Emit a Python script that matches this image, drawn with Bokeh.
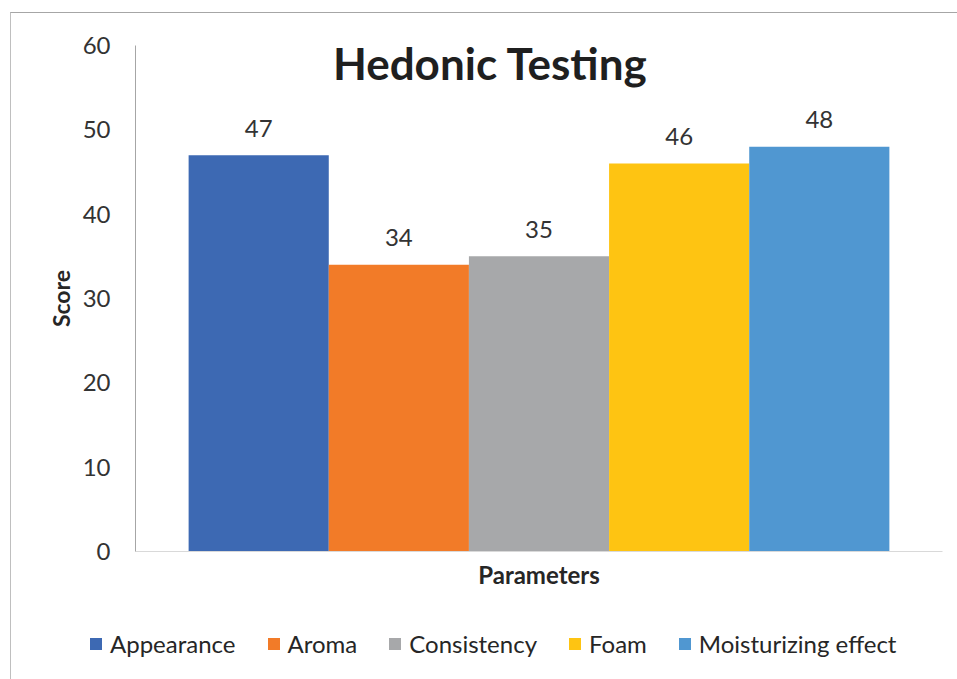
from bokeh.plotting import figure
from bokeh.models import (ColumnDataSource, Range1d, FixedTicker, LabelSet, Label,
                          Legend, LegendItem)
from bokeh.layouts import column, row
from bokeh.core.properties import value
from bokeh.embed import file_html
from bokeh.resources import INLINE

# ---- data ----
categories = ["Appearance", "Aroma", "Consistency", "Foam", "Moisturizing effect"]
scores = [47, 34, 35, 46, 48]
colors = ["#3d69b3", "#f27b28", "#a7a8aa", "#fec412", "#5097d1"]
y_ticks = [0, 10, 20, 30, 40, 50, 60]
title_text = "Hedonic Testing"
x_label = "Parameters"
y_label = "Score"

FONT = "Lato"

xs = list(range(len(categories)))
source = ColumnDataSource(dict(x=xs, score=scores, name=categories, color=colors,
                               label=[str(v) for v in scores]))

W = 946
p = figure(width=W, height=597, output_backend="svg", toolbar_location=None,
           x_range=Range1d(-0.879, len(categories) - 1 + 0.879),
           y_range=Range1d(0, 60),
           min_border_left=124, min_border_right=15, min_border_top=32,
           min_border_bottom=59)
p.outline_line_color = None
p.grid.visible = False
p.background_fill_color = "white"
p.border_fill_color = "white"

bars = p.vbar(x="x", top="score", width=1.0, bottom=0, source=source,
              fill_color="color", line_color=None)

# y axis
ya = p.yaxis[0]
ya.ticker = FixedTicker(ticks=y_ticks)
ya.major_tick_line_color = None
ya.minor_tick_line_color = None
ya.axis_line_color = "#a6a6a6"
ya.major_label_standoff = 19
ya.major_label_text_font = FONT
ya.major_label_text_font_size = "24px"
ya.major_label_text_color = "#333333"
ya.axis_label = y_label
ya.axis_label_text_font = FONT
ya.axis_label_text_font_size = "23px"
ya.axis_label_text_font_style = "bold"
ya.axis_label_text_color = "#262626"
ya.axis_label_standoff = 5

# x axis
xa = p.xaxis[0]
xa.ticker = FixedTicker(ticks=[])
xa.major_tick_line_color = None
xa.minor_tick_line_color = None
xa.axis_line_color = "#d9d9d9"
xa.axis_label = x_label
xa.axis_label_text_font = FONT
xa.axis_label_text_font_size = "24px"
xa.axis_label_text_font_style = "bold"
xa.axis_label_text_color = "#262626"
xa.axis_label_standoff = 8

# value labels
labels = LabelSet(x="x", y="score", text="label", source=source, y_offset=27,
                  text_align="center", text_baseline="middle",
                  text_font=value(FONT), text_font_size=value("24px"), text_color="#333333")
p.add_layout(labels)

# title
p.add_layout(Label(x=355, y=489, x_units="screen", y_units="screen", text=title_text,
                   text_font=FONT, text_font_size="44px", text_font_style="bold",
                   text_color="#1f1f1f", text_align="center", text_baseline="middle"))

# legend in its own strip
lf = figure(width=W, height=69, output_backend="svg", toolbar_location=None,
            x_range=Range1d(1000, 1001), y_range=Range1d(1000, 1001),
            x_axis_location=None, y_axis_location=None,
            min_border_left=0, min_border_right=0, min_border_top=0, min_border_bottom=0)
lf.outline_line_color = None
lf.grid.visible = False
lbars = lf.vbar(x="x", top="score", width=1.0, bottom=0, source=source,
                fill_color="color", line_color=None)
items = [LegendItem(label=categories[i], renderers=[lbars], index=i) for i in range(len(categories))]
legend = Legend(items=items, orientation="horizontal", location=(77, 21),
                glyph_width=15, glyph_height=15, label_standoff=7, spacing=30,
                padding=0, margin=0, border_line_color=None, background_fill_alpha=0,
                label_text_font=FONT, label_text_font_size="24px", label_text_color="#262626")
lf.add_layout(legend)

layout = column(p, row(lf), spacing=0, margin=(12, 0, 0, 10),
                styles={"border-top": "1px solid #a6a6a6", "border-left": "1px solid #bfbfbf"})

open("out.html", "w").write(file_html(layout, INLINE))
